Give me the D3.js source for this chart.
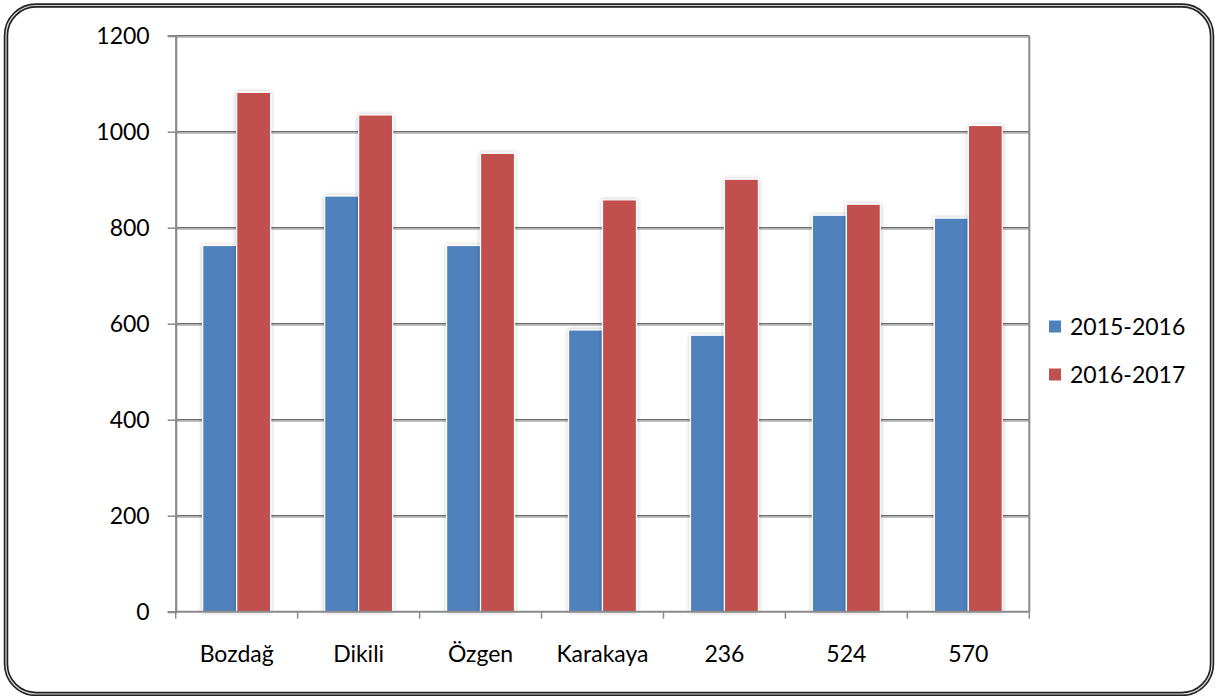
<!DOCTYPE html>
<html>
<head>
<meta charset="utf-8">
<script src="https://cdn.jsdelivr.net/npm/d3@7"></script>
<style>
  html, body { margin: 0; padding: 0; background: #fff; }
  svg { display: block; }
  text { font-family: Lato, "Open Sans", sans-serif; fill: #000; }
</style>
</head>
<body>
<svg id="chart" width="1218" height="696"></svg>
<script>
// Stations and the two seasons' values
const categories = ["Bozdağ", "Dikili", "Özgen", "Karakaya", "236", "524", "570"];
const seriesNames = ["2015-2016", "2016-2017"];
const values2015 = [763, 866, 763, 587, 576, 826, 820];
const values2016 = [1082, 1035, 955, 858, 901, 849, 1013];
const yTicks = [0, 200, 400, 600, 800, 1000, 1200];
const colors = ["#4f81bd", "#c0504d"];

const svg = d3.select("#chart");
const FONT = "23px";

const plot = { left: 175.7, right: 1029.3, top: 35.7, bottom: 611.7 };

const defs = svg.append("defs");
const shadow = defs.append("filter").attr("id", "barShadow")
  .attr("x", "-30%").attr("y", "-10%").attr("width", "160%").attr("height", "120%");
shadow.append("feDropShadow").attr("dx", 0).attr("dy", 0).attr("stdDeviation", 2)
  .attr("flood-color", "#000").attr("flood-opacity", 0.25);

// Outer rounded frame (double line)
const frame = { x: 6, y: 5.5, w: 1206, h: 688.5, r: 30 };
svg.append("rect").attr("x", frame.x).attr("y", frame.y).attr("width", frame.w).attr("height", frame.h)
  .attr("rx", frame.r).attr("ry", frame.r)
  .attr("fill", "#fff").attr("stroke", "#222").attr("stroke-width", 4.5);
svg.append("rect").attr("x", frame.x).attr("y", frame.y).attr("width", frame.w).attr("height", frame.h)
  .attr("rx", frame.r).attr("ry", frame.r)
  .attr("fill", "none").attr("stroke", "#d8d8d8").attr("stroke-width", 1.2);

const x0 = d3.scaleBand().domain(categories).range([plot.left, plot.right]).paddingInner(0).paddingOuter(0);
const gapFrac = 27 / x0.bandwidth();
const x1 = d3.scaleBand().domain(seriesNames)
  .range([x0.bandwidth() * gapFrac, x0.bandwidth() * (1 - gapFrac)]).padding(0);
const y = d3.scaleLinear().domain([0, 1200]).range([plot.bottom, plot.top]);

// Gridlines with a faint shadow below each
const grid = svg.append("g");
yTicks.filter(t => t > 0).forEach(t => {
  grid.append("line").attr("x1", plot.left).attr("x2", plot.right)
    .attr("y1", y(t) + 1.6).attr("y2", y(t) + 1.6)
    .attr("stroke", "#c4c4c4").attr("stroke-width", 1.2);
  grid.append("line").attr("x1", plot.left).attr("x2", plot.right)
    .attr("y1", y(t)).attr("y2", y(t))
    .attr("stroke", "#6e6e6e").attr("stroke-width", 1.4);
});

// Right border of the plot area
svg.append("line").attr("x1", plot.right).attr("x2", plot.right)
  .attr("y1", plot.top).attr("y2", plot.bottom)
  .attr("stroke", "#8a8a8a").attr("stroke-width", 2);

// Bars
const rows = categories.map((c, i) => ({ cat: c, vals: [values2015[i], values2016[i]] }));
const groups = svg.append("g").selectAll("g").data(rows).join("g")
  .attr("transform", d => `translate(${x0(d.cat)},0)`);
groups.selectAll("rect").data(d => d.vals.map((v, k) => ({ v, k })))
  .join("rect")
  .attr("x", d => x1(seriesNames[d.k]))
  .attr("y", d => y(d.v))
  .attr("width", x1.bandwidth())
  .attr("height", d => y(0) - y(d.v))
  .attr("fill", d => colors[d.k])
  .attr("stroke", "#fff").attr("stroke-width", 1.2)
  .attr("filter", "url(#barShadow)");

// Y axis
const yAxis = svg.append("g").attr("transform", `translate(${plot.left},0)`)
  .call(d3.axisLeft(y).tickValues(yTicks).tickSize(8).tickPadding(18).tickFormat(d3.format("d")));
yAxis.select(".domain").attr("stroke", "#8a8a8a").attr("stroke-width", 2.2);
yAxis.selectAll(".tick line").attr("stroke", "#8a8a8a").attr("stroke-width", 1.5);
yAxis.selectAll(".tick text").style("font-size", FONT).style("font-family", "Lato, sans-serif").attr("fill", "#000");

// X axis (ticks at category boundaries)
const xAxisG = svg.append("g").attr("transform", `translate(0,${plot.bottom})`);
xAxisG.append("line").attr("x1", plot.left).attr("x2", plot.right).attr("y1", 0).attr("y2", 0)
  .attr("stroke", "#8a8a8a").attr("stroke-width", 2);
const bounds = categories.map(c => x0(c)).concat([plot.right]);
xAxisG.selectAll("line.tk").data(bounds).join("line").attr("class", "tk")
  .attr("x1", d => d).attr("x2", d => d).attr("y1", 0).attr("y2", 7)
  .attr("stroke", "#8a8a8a").attr("stroke-width", 1.5);
xAxisG.selectAll("text").data(categories).join("text")
  .attr("x", d => x0(d) + x0.bandwidth() / 2)
  .attr("y", 50.5)
  .attr("text-anchor", "middle")
  .style("font-size", FONT)
  .text(d => d);

// Legend
const legend = svg.append("g").attr("transform", "translate(1049,0)");
seriesNames.forEach((name, k) => {
  const cy = 326.5 + k * 48;
  legend.append("rect").attr("x", 0).attr("y", cy - 6).attr("width", 12).attr("height", 12)
    .attr("fill", colors[k]);
  legend.append("text").attr("x", 21).attr("y", cy + 8.5)
    .style("font-size", FONT).text(name);
});
</script>
</body>
</html>
